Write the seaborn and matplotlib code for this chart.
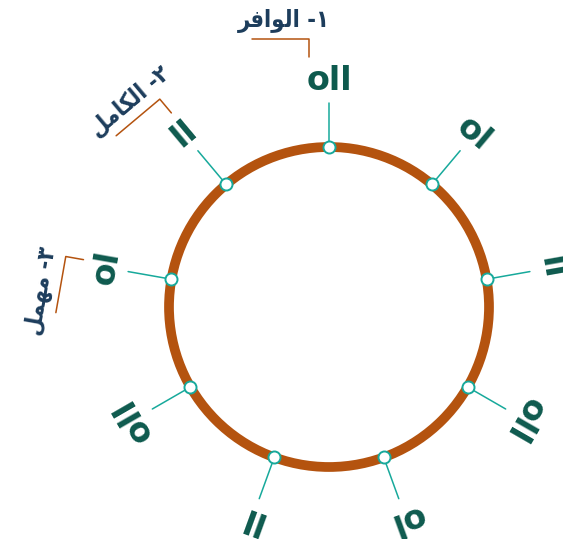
import numpy as np
import pandas as pd
import matplotlib.pyplot as plt
import seaborn as sns
from matplotlib.patches import Circle

# ring positions (degrees, counter-clockwise from east) and prosody units
angles = [90, 50, 10, -30, -70, -110, -150, 170, 130]
units = ["oاا", "oا", "اا", "oاا", "oا", "اا", "oاا", "oا", "اا"]

# the three metres read from the ring (text already in visual order)
metre_names = ["ﺮﻓﺍﻮﻟﺍ -١", "ﻞﻣﺎﻜﻟﺍ -٢", "ﻞﻤﻬﻣ -٣"]
metre_angles = [90, 130, 170]

RING = "#b4530f"
TEAL = "#17a99b"
GREEN = "#0e5a4e"
NAVY = "#1d3d5c"

sns.set_theme(style="white")
plt.rcParams["font.family"] = ["DejaVu Sans"]

fig = plt.figure(figsize=(5.63, 5.39), dpi=100)
ax = fig.add_axes([0, 0, 1, 1])
ax.set_xlim(0, 563)
ax.set_ylim(0, 539)
ax.axis("off")

cx, cy, R = 329, 232, 160

def polar(a, r):
    t = np.deg2rad(a)
    return cx + r * np.cos(t), cy + r * np.sin(t)

def local(a, t, rho):
    # point in the frame of a label: t along the text, rho outward
    rot = np.deg2rad(a - 90)
    n = np.deg2rad(a)
    return (cx + t * np.cos(rot) + rho * np.cos(n),
            cy + t * np.sin(rot) + rho * np.sin(n))

ax.add_patch(Circle((cx, cy), R, fill=False, ec=RING, lw=7, zorder=2))

df = pd.DataFrame({"angle": angles, "unit": units})
df["x"], df["y"] = polar(df["angle"].to_numpy(), R)

for a in angles:
    x0, y0 = polar(a, R)
    x1, y1 = polar(a, 204)
    ax.plot([x0, x1], [y0, y1], color=TEAL, lw=1.1, zorder=3)

sns.scatterplot(data=df, x="x", y="y", ax=ax, s=75, color="white",
                edgecolor=TEAL, linewidth=1.4, zorder=4, legend=False)

for a, u in zip(df["angle"], df["unit"]):
    lx, ly = polar(a, 226)
    ax.text(lx, ly, u, rotation=a - 90, rotation_mode="anchor",
            ha="center", va="center", fontsize=24, fontweight="bold",
            color=GREEN, zorder=5)

# brackets + metre names
shifts = [-20, 4, 4]
text_off = [21, 24, 6]
for name, a, s, o in zip(metre_names, metre_angles, shifts, text_off):
    pts = [local(a, s - 57, 268), local(a, s, 268), local(a, s, 250)]
    ax.plot([p[0] for p in pts], [p[1] for p in pts], color=RING, lw=1.1,
            zorder=3)
    tx, ty = local(a, s + o, 286)
    ax.text(tx, ty, name, rotation=a - 90, rotation_mode="anchor",
            ha="right", va="center", fontsize=17, fontweight="bold",
            fontstretch="condensed", color=NAVY, zorder=5)

fig.savefig("out.png", dpi=100, facecolor="white")
